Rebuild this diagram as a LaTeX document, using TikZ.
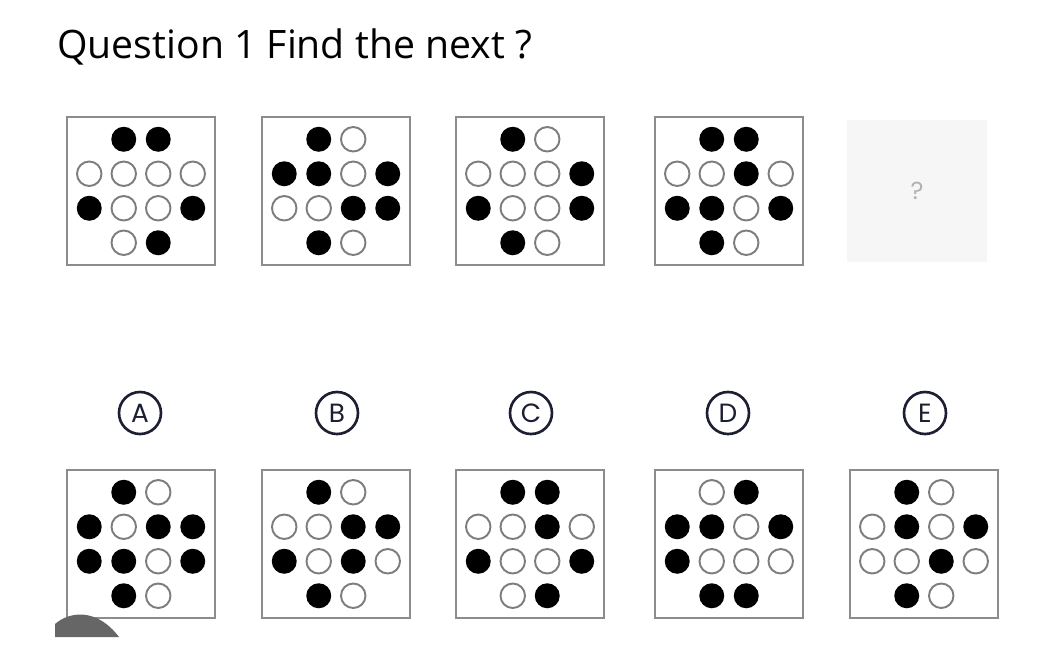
\documentclass[tikz,border=0pt]{standalone}
\usepackage{fontspec}
\setmainfont{Open Sans}
\newfontfamily\letterfont{Poppins}
\usepackage{xcolor}
\usepackage{tikz}
\usetikzlibrary{positioning}

\definecolor{navy}{RGB}{28,30,50}
\definecolor{ring}{RGB}{125,125,125}
\definecolor{frame}{RGB}{140,140,140}

% one panel of twelve dots, 1 = black, 0 = white
\newcommand{\dotpanel}[2]{%
  \foreach \st [count=\i] in {#2} {
    \pgfmathsetmacro{\px}{{-1,1,-3,-1,1,3,-3,-1,1,3,-1,1}[\i-1]}
    \pgfmathsetmacro{\py}{{-3,-3,-1,-1,-1,-1,1,1,1,1,3,3}[\i-1]}
    \ifnum\st=1
      \node[Dark] (#1-\i) at ([shift={(\px*17.25,\py*17.25)}]#1.center) {};
    \else
      \node[Light] (#1-\i) at ([shift={(\px*17.25,\py*17.25)}]#1.center) {};
    \fi
  }%
}

\begin{document}
\begin{tikzpicture}
    [
      x=0.02cm, y=-0.02cm,
      Frame/.style={rectangle, draw=frame, fill=white, line width=1.1pt, minimum size=2.96cm},
      Blank/.style={rectangle, fill=gray!7, minimum width=2.8cm, minimum height=2.84cm, text=gray!60, font=\letterfont\fontsize{14}{14}\selectfont},
      Dark/.style={circle, fill=black, minimum size=0.5cm, inner sep=0pt},
      Light/.style={circle, draw=ring, fill=white, line width=1.1pt, minimum size=0.49cm, inner sep=0pt},
      Choice/.style={circle, draw=navy, line width=1.5pt, minimum size=0.84cm, inner sep=0pt, text=navy, font=\letterfont\fontsize{15}{15}\selectfont},
    ]
    \fill[white] (0,0) rectangle (1063,657);
    \useasboundingbox (0,0) rectangle (1063,657);

    % Title
    \node[anchor=base west, inner sep=0pt, font=\fontsize{22.3}{26}\selectfont] (title) at (57,58) {Question 1 Find the next ?};

    % Question row
    \node[Frame] (q1) at (141,191) {};
    \node[Frame] (q2) at (336,191) {};
    \node[Frame] (q3) at (530,191) {};
    \node[Frame] (q4) at (729,191) {};
    \node[Blank] (q5) at (917,191) {?};

    \dotpanel{q1}{1,1, 0,0,0,0, 1,0,0,1, 0,1}
    \dotpanel{q2}{1,0, 1,1,0,1, 0,0,1,1, 1,0}
    \dotpanel{q3}{1,0, 0,0,0,1, 1,0,0,1, 1,0}
    \dotpanel{q4}{1,1, 0,0,1,0, 1,1,0,1, 1,0}

    % Answer labels
    \node[Choice] (labA) at (140,413) {A};
    \node[Choice] (labB) at (337,413) {B};
    \node[Choice] (labC) at (531,413) {C};
    \node[Choice] (labD) at (728,413) {D};
    \node[Choice] (labE) at (925,413) {E};

    % Answer row
    \node[Frame] (a1) at (141,544) {};
    \node[Frame] (a2) at (336,544) {};
    \node[Frame] (a3) at (530,544) {};
    \node[Frame] (a4) at (729,544) {};
    \node[Frame] (a5) at (924,544) {};

    \dotpanel{a1}{1,0, 1,0,1,1, 1,1,0,1, 1,0}
    \dotpanel{a2}{1,0, 0,0,1,1, 1,0,1,0, 1,0}
    \dotpanel{a3}{1,1, 0,0,1,0, 1,0,0,1, 0,1}
    \dotpanel{a4}{0,1, 1,1,0,1, 1,0,0,0, 1,1}
    \dotpanel{a5}{1,0, 0,1,0,1, 0,0,1,0, 1,0}

    % grey blob in the corner
    \fill[gray!80!black] (55,637) -- (55,624) .. controls (70,611) and (97,608) .. (119,637) -- cycle;
\end{tikzpicture}
\end{document}
